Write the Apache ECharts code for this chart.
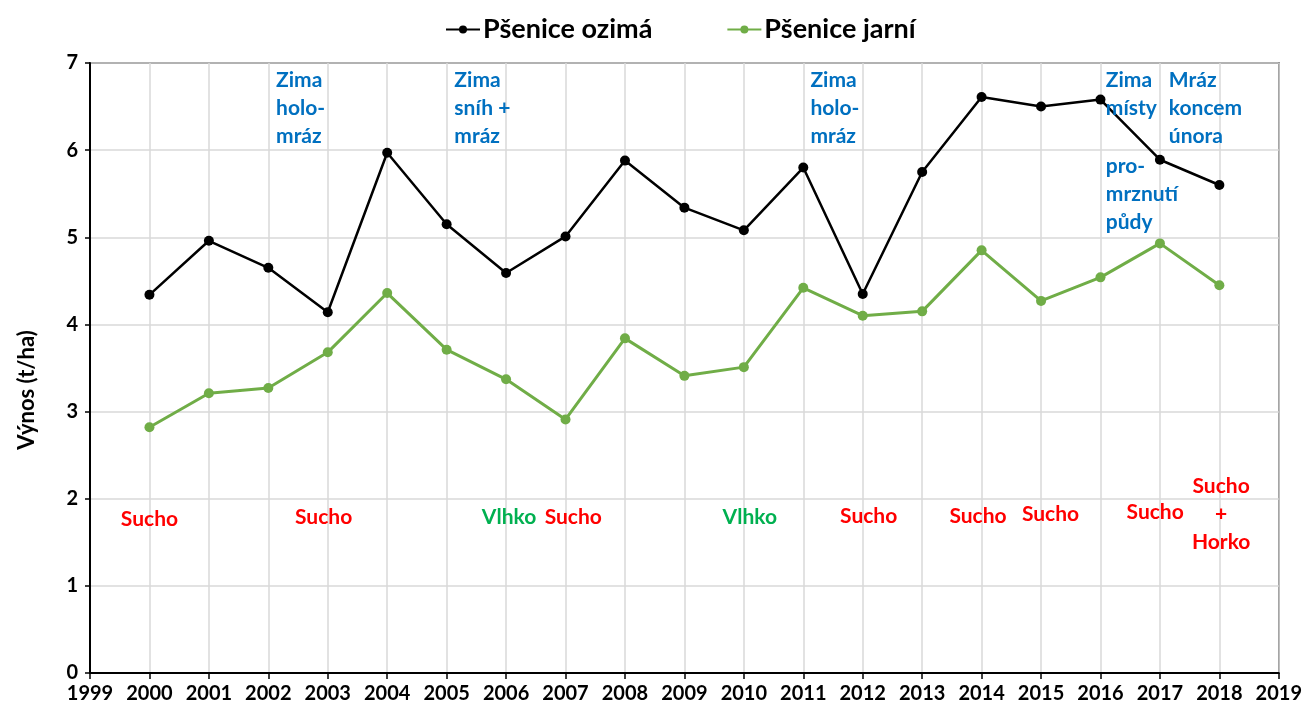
<!DOCTYPE html>
<html style="height: 100%">
<head>
  <meta charset="utf-8">
  <script src="https://cdn.jsdelivr.net/npm/echarts@6/dist/echarts.min.js"></script>
</head>
<body style="height: 100%; margin: 0; background: #fff">
  <div id="container" style="width: 1305px; height: 711px"></div>
  <script type="text/javascript">
    // roky a výnosy (t/ha)
    var years = [2000, 2001, 2002, 2003, 2004, 2005, 2006, 2007, 2008, 2009,
                 2010, 2011, 2012, 2013, 2014, 2015, 2016, 2017, 2018];
    var ozima = [4.34, 4.96, 4.65, 4.14, 5.97, 5.15, 4.59, 5.01, 5.88, 5.34,
                 5.08, 5.80, 4.35, 5.75, 6.61, 6.50, 6.58, 5.89, 5.60];
    var jarni = [2.82, 3.21, 3.27, 3.68, 4.36, 3.71, 3.37, 2.91, 3.84, 3.41,
                 3.51, 4.42, 4.10, 4.15, 4.85, 4.27, 4.54, 4.93, 4.45];

    // poznámky k zimě (modré), [x, y, text]
    var winterNotes = [
      [2002.13, 6.96, 'Zima\nholo-\nmráz'],
      [2005.13, 6.96, 'Zima\nsníh +\nmráz'],
      [2011.12, 6.96, 'Zima\nholo-\nmráz'],
      [2016.09, 6.96, 'Zima\nmísty'],
      [2016.09, 5.98, 'pro-\nmrznutí\npůdy'],
      [2017.15, 6.96, 'Mráz\nkoncem\núnora']
    ];
    // poznámky k počasí (sucho / vlhko), [x, y, text]
    var droughtNotes = [
      [2000.0, 1.77, 'Sucho'],
      [2002.93, 1.79, 'Sucho'],
      [2007.13, 1.79, 'Sucho'],
      [2012.1, 1.80, 'Sucho'],
      [2013.94, 1.80, 'Sucho'],
      [2015.16, 1.82, 'Sucho'],
      [2016.92, 1.85, 'Sucho'],
      [2018.03, 1.82, 'Sucho\n+\nHorko']
    ];
    var wetNotes = [
      [2006.05, 1.79, 'Vlhko'],
      [2010.1, 1.79, 'Vlhko']
    ];

    var font = 'Lato, "Open Sans", sans-serif';

    function pairs(vals) {
      return years.map(function (y, i) { return [y, vals[i]]; });
    }

    function noteSeries(notes, color, align, vAlign) {
      return {
        type: 'scatter',
        symbolSize: 0,
        silent: true,
        z: 5,
        itemStyle: { opacity: 1 },
        data: notes.map(function (n) { return { value: [n[0], n[1]], text: n[2] }; }),
        label: {
          show: true,
          position: [0, 0],
          align: align,
          verticalAlign: vAlign,
          color: color,
          opacity: 1,
          textBorderWidth: 0,
          fontFamily: font,
          fontWeight: 'bold',
          fontSize: 21,
          lineHeight: 28,
          formatter: function (p) { return p.data.text; }
        }
      };
    }

    var dom = document.getElementById('container');
    var myChart = echarts.init(dom);

    var option = {
      animation: false,
      legend: {
        top: 11,
        left: 440,
        itemGap: 74,
        itemWidth: 34,
        itemHeight: 10,
        textStyle: { fontFamily: font, fontSize: 27, fontWeight: 'bold', color: '#000', padding: [0, 0, 0, -2] },
        data: ['Pšenice ozimá', 'Pšenice jarní']
      },
      grid: {
        left: 90,
        right: 24,
        top: 63,
        bottom: 38,
        show: true,
        borderColor: '#000',
        borderWidth: 1.5
      },
      xAxis: {
        type: 'value',
        min: 1999,
        max: 2019,
        interval: 1,
        axisLine: { lineStyle: { color: '#000', width: 2 } },
        axisTick: { show: true, length: 6, lineStyle: { color: '#000', width: 1.5 } },
        axisLabel: {
          color: '#000', fontFamily: font, fontWeight: 'bold', fontSize: 20, margin: 11,
          formatter: function (v) { return String(v); }
        },
        splitLine: { lineStyle: { color: '#d9d9d9', width: 1.5 } }
      },
      yAxis: {
        type: 'value',
        min: 0,
        max: 7,
        interval: 1,
        name: 'Výnos (t/ha)',
        nameLocation: 'middle',
        nameGap: 52,
        nameTextStyle: {
          color: '#000', fontFamily: font, fontSize: 22, fontWeight: 'bold',
          padding: [0, 44, 0, 0]
        },
        axisLine: { show: true, lineStyle: { color: '#000', width: 2 } },
        axisTick: { show: true, length: 5, lineStyle: { color: '#000', width: 1.5 } },
        axisLabel: { color: '#000', fontFamily: font, fontWeight: 'bold', fontSize: 20, margin: 12 },
        splitLine: { lineStyle: { color: '#d9d9d9', width: 1.5 } }
      },
      series: [
        {
          name: 'Pšenice ozimá',
          type: 'line',
          data: pairs(ozima),
          symbol: 'circle',
          symbolSize: 10,
          color: '#000',
          lineStyle: { width: 2.5, color: '#000' },
          itemStyle: { color: '#000' },
          z: 3
        },
        {
          name: 'Pšenice jarní',
          type: 'line',
          data: pairs(jarni),
          symbol: 'circle',
          symbolSize: 10,
          color: '#70ad47',
          lineStyle: { width: 3, color: '#70ad47' },
          itemStyle: { color: '#70ad47' },
          z: 2
        },
        noteSeries(winterNotes, '#0070c0', 'left', 'top'),
        noteSeries(droughtNotes, '#ff0000', 'center', 'middle'),
        noteSeries(wetNotes, '#00b050', 'center', 'middle')
      ]
    };
    myChart.setOption(option);
  </script>
</body>
</html>
